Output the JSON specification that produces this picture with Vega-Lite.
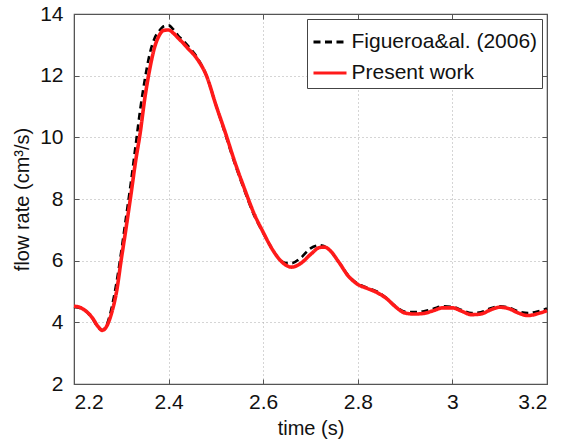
{
"$schema": "https://vega.github.io/schema/vega-lite/v6.json",
"width": 473, "height": 370,
"autosize": {"type": "none"},
"padding": {"left": 74, "top": 14, "right": 16, "bottom": 64},
"background": "white",
"datasets": {
"fig": [
{"t":2.20,"q":4.5},{"t":2.22,"q":4.42},{"t":2.24,"q":4.1},{"t":2.25,"q":3.85},{"t":2.26,"q":3.75},{"t":2.27,"q":3.95},{"t":2.28,"q":4.5},{"t":2.29,"q":5.3},{"t":2.30,"q":6.3},{"t":2.31,"q":7.4},{"t":2.32,"q":8.5},{"t":2.33,"q":9.7},{"t":2.34,"q":10.9},{"t":2.35,"q":11.9},{"t":2.36,"q":12.7},{"t":2.37,"q":13.2},{"t":2.38,"q":13.45},{"t":2.39,"q":13.6},{"t":2.40,"q":13.63},{"t":2.41,"q":13.5},{"t":2.42,"q":13.3},{"t":2.43,"q":13.15},{"t":2.44,"q":12.98},{"t":2.46,"q":12.6},{"t":2.48,"q":12.0},{"t":2.50,"q":11.05},{"t":2.52,"q":10.1},{"t":2.54,"q":9.15},{"t":2.56,"q":8.3},{"t":2.58,"q":7.5},{"t":2.60,"q":6.9},{"t":2.62,"q":6.35},{"t":2.64,"q":5.97},{"t":2.65,"q":5.92},{"t":2.66,"q":5.92},{"t":2.68,"q":6.1},{"t":2.70,"q":6.4},{"t":2.72,"q":6.5},{"t":2.74,"q":6.35},{"t":2.76,"q":5.95},{"t":2.78,"q":5.52},{"t":2.80,"q":5.25},{"t":2.82,"q":5.12},{"t":2.84,"q":5.0},{"t":2.86,"q":4.8},{"t":2.88,"q":4.52},{"t":2.90,"q":4.34},{"t":2.92,"q":4.33},{"t":2.94,"q":4.36},{"t":2.96,"q":4.44},{"t":2.98,"q":4.52},{"t":3.00,"q":4.5},{"t":3.02,"q":4.4},{"t":3.04,"q":4.3},{"t":3.06,"q":4.33},{"t":3.08,"q":4.45},{"t":3.10,"q":4.52},{"t":3.12,"q":4.47},{"t":3.14,"q":4.35},{"t":3.16,"q":4.3},{"t":3.18,"q":4.35},{"t":3.20,"q":4.45}
],
"pw": [
{"t":2.20,"q":4.52},{"t":2.21,"q":4.5},{"t":2.22,"q":4.42},{"t":2.23,"q":4.3},{"t":2.24,"q":4.12},{"t":2.25,"q":3.88},{"t":2.26,"q":3.74},{"t":2.27,"q":3.9},{"t":2.28,"q":4.33},{"t":2.29,"q":5.0},{"t":2.30,"q":6.05},{"t":2.31,"q":7.05},{"t":2.32,"q":8.1},{"t":2.33,"q":9.2},{"t":2.34,"q":10.15},{"t":2.35,"q":11.3},{"t":2.36,"q":12.2},{"t":2.37,"q":12.9},{"t":2.38,"q":13.3},{"t":2.39,"q":13.47},{"t":2.40,"q":13.48},{"t":2.41,"q":13.38},{"t":2.42,"q":13.22},{"t":2.43,"q":13.07},{"t":2.44,"q":12.9},{"t":2.46,"q":12.55},{"t":2.48,"q":12.0},{"t":2.50,"q":11.05},{"t":2.52,"q":10.15},{"t":2.54,"q":9.2},{"t":2.56,"q":8.35},{"t":2.58,"q":7.55},{"t":2.60,"q":6.92},{"t":2.62,"q":6.35},{"t":2.64,"q":5.95},{"t":2.66,"q":5.79},{"t":2.68,"q":5.92},{"t":2.70,"q":6.2},{"t":2.72,"q":6.43},{"t":2.73,"q":6.44},{"t":2.74,"q":6.35},{"t":2.76,"q":5.95},{"t":2.78,"q":5.5},{"t":2.80,"q":5.23},{"t":2.82,"q":5.1},{"t":2.84,"q":4.97},{"t":2.86,"q":4.78},{"t":2.88,"q":4.5},{"t":2.90,"q":4.3},{"t":2.92,"q":4.27},{"t":2.94,"q":4.29},{"t":2.96,"q":4.38},{"t":2.98,"q":4.47},{"t":3.00,"q":4.47},{"t":3.02,"q":4.36},{"t":3.04,"q":4.25},{"t":3.06,"q":4.27},{"t":3.08,"q":4.4},{"t":3.10,"q":4.49},{"t":3.12,"q":4.44},{"t":3.14,"q":4.3},{"t":3.16,"q":4.22},{"t":3.18,"q":4.28},{"t":3.20,"q":4.38}
]
},
"config": {
"font": "Liberation Sans",
"view": {"stroke": "#555", "strokeWidth": 1.2},
"axis": {"labelFont": "Liberation Sans", "labelFontSize": 21, "labelColor": "#111", "titleFont": "Liberation Sans", "titleFontSize": 20, "titleFontWeight": "normal", "titleColor": "#111", "domainColor": "#555", "tickColor": "#555", "gridColor": "#aaa", "gridDash": [1, 3], "gridOpacity": 1, "gridWidth": 1, "tickSize": -5},
"legend": {"labelFont": "Liberation Sans", "labelFontSize": 21, "labelColor": "#111", "labelLimit": 0, "strokeColor": "#444", "fillColor": "white", "padding": 4.5, "symbolType": "stroke", "symbolSize": 1090, "symbolStrokeWidth": 3, "rowPadding": 2, "labelOffset": 3}
},
"layer": [
{
"data": {"name": "fig"},
"transform": [{"calculate": "'Figueroa&al. (2006)'", "as": "s"}],
"mark": {"type": "line", "strokeWidth": 2.6, "interpolate": "monotone"},
"encoding": {
"x": {"field": "t", "type": "quantitative", "scale": {"domain": [2.2, 3.2], "nice": false, "zero": false}, "axis": {"orient": "bottom", "values": [2.2, 2.4, 2.6, 2.8, 3.0, 3.2], "format": "~g", "title": "time (s)", "labelPadding": 12, "titlePadding": 6}},
"y": {"field": "q", "type": "quantitative", "scale": {"domain": [2, 14], "nice": false, "zero": false}, "axis": {"orient": "left", "values": [2, 4, 6, 8, 10, 12, 14], "title": "flow rate (cm³/s)", "labelPadding": 16, "titlePadding": 7}},
"color": {"field": "s", "type": "nominal", "scale": {"domain": ["Figueroa&al. (2006)", "Present work"], "range": ["#000000", "#ff1a1a"]}, "legend": {"title": null, "orient": "top-right", "offset": 5}},
"strokeDash": {"field": "s", "type": "nominal", "scale": {"domain": ["Figueroa&al. (2006)", "Present work"], "range": [[7, 4.5], [1, 0]]}, "legend": {"title": null, "orient": "top-right", "offset": 5}}
}
},
{
"data": {"name": "pw"},
"transform": [{"calculate": "'Present work'", "as": "s"}],
"mark": {"type": "line", "strokeWidth": 3.6, "interpolate": "monotone"},
"encoding": {
"x": {"field": "t", "type": "quantitative", "axis": {"orient": "top", "values": [2.2, 2.4, 2.6, 2.8, 3.0, 3.2], "labels": false, "title": null, "grid": false}},
"y": {"field": "q", "type": "quantitative", "axis": {"orient": "right", "values": [2, 4, 6, 8, 10, 12, 14], "labels": false, "title": null, "grid": false}},
"color": {"field": "s", "type": "nominal"},
"strokeDash": {"field": "s", "type": "nominal"}
}
}
],
"resolve": {"axis": {"x": "independent", "y": "independent"}}
}
